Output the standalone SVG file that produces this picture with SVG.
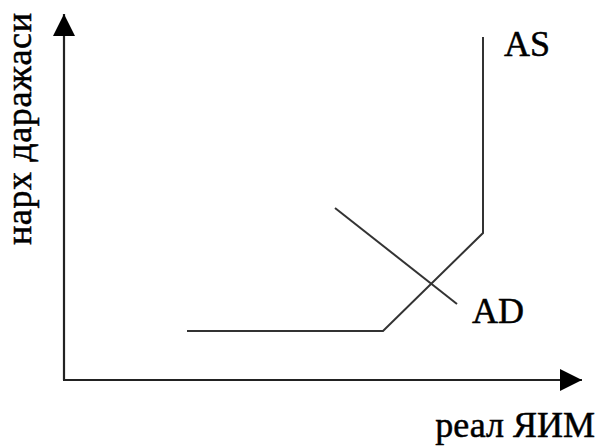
<svg xmlns="http://www.w3.org/2000/svg" width="598" height="446" viewBox="0 0 598 446">
<style>
.ax{stroke:#222;stroke-width:2.2;fill:none}
.cv{stroke:#333;stroke-width:2;fill:none}
.t{font-family:"Liberation Serif","Times New Roman",serif;font-size:36px;fill:#000;stroke:#000;stroke-width:0.5}
</style>
<defs>
<marker id="ah" markerUnits="userSpaceOnUse" markerWidth="24" markerHeight="24" refX="22" refY="11" orient="auto">
<path d="M0,0 L22,11 L0,22 Z" fill="#000"/>
</marker>
</defs>
<rect width="598" height="446" fill="#fff"/>
<g id="connectors">
<line id="y-axis" class="ax" x1="64" y1="380" x2="64" y2="14" marker-end="url(#ah)"/>
<line id="x-axis" class="ax" x1="63" y1="380" x2="582" y2="380" marker-end="url(#ah)"/>
</g>
<g id="AS">
<polyline class="cv" points="187,331 383,331 483,233 483,37"/>
<text class="t" x="504" y="56">AS</text>
</g>
<g id="AD">
<line class="cv" x1="335" y1="208" x2="457" y2="304"/>
<text class="t" x="472" y="323">AD</text>
</g>
<g id="y-label">
<text class="t" transform="translate(31,245) rotate(-90)" textLength="232">нарх даражаси</text>
</g>
<g id="x-label">
<text class="t" x="595" y="437" text-anchor="end">реал ЯИМ</text>
</g>
</svg>
